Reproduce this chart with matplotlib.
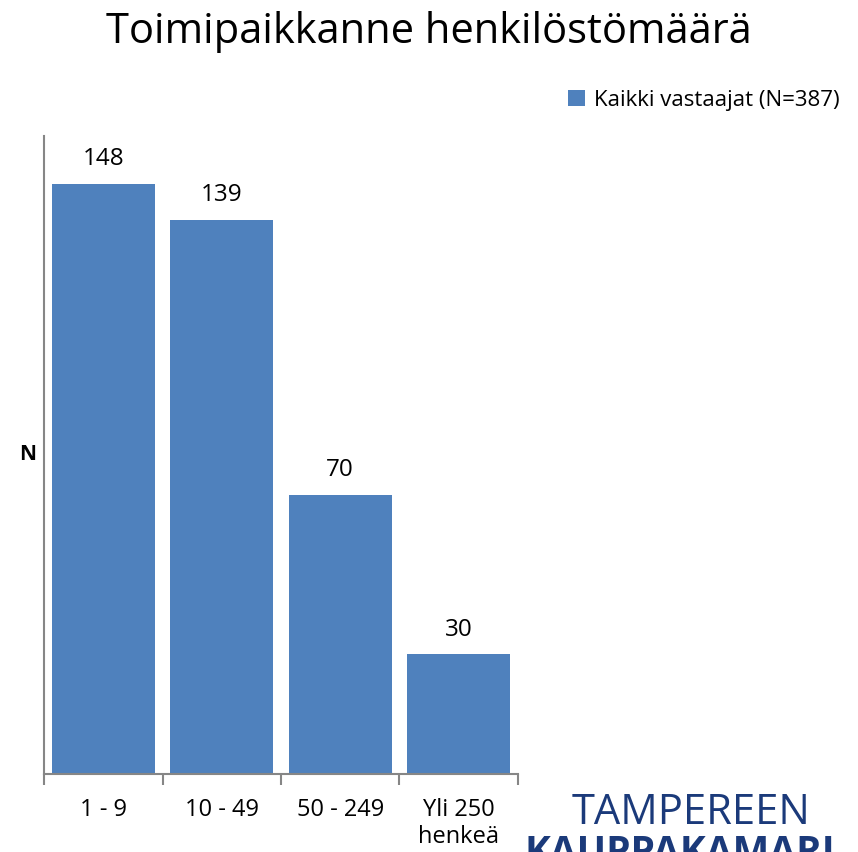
import matplotlib.pyplot as plt

categories = ['1 - 9', '10 - 49', '50 - 249', 'Yli 250\nhenkeä']
values = [148, 139, 70, 30]
series_name = 'Kaikki vastaajat (N=387)'

plt.rcParams['font.family'] = ['Open Sans', 'DejaVu Sans']

fig = plt.figure(figsize=(8.58, 8.52), dpi=100)
ax = fig.add_axes([0.0513, 0.0915, 0.5524, 0.7488])

x = range(len(categories))
bars = ax.bar(x, values, width=0.87, color='#4F81BD', label=series_name)

for b, v in zip(bars, values):
    ax.text(b.get_x() + b.get_width() / 2, v + 3.2, str(v),
            ha='center', va='bottom', fontsize=17.5)

ax.set_xlim(-0.5, len(categories) - 0.5)
ax.set_ylim(0, 160)
ax.set_yticks([])
ax.set_xticks([i - 0.5 for i in range(len(categories) + 1)])
ax.set_xticklabels([])
ax.set_xticks(list(x), minor=True)
ax.set_xticklabels(categories, minor=True, fontsize=17, linespacing=1.2)
ax.tick_params(axis='x', which='major', length=8, color='#868686', width=1.5)
ax.tick_params(axis='x', which='minor', length=0, pad=17)

for s in ['top', 'right']:
    ax.spines[s].set_visible(False)
for s in ['left', 'bottom']:
    ax.spines[s].set_color('#868686')
    ax.spines[s].set_linewidth(1.5)

fig.text(0.0327, 0.466, 'N', fontsize=15, fontweight='bold', ha='center', va='center')
fig.text(0.5, 0.962, 'Toimipaikkanne henkilöstömäärä', fontsize=30, ha='center', va='center')

fig.legend(handles=[bars], labels=[series_name], loc='center left',
           bbox_to_anchor=(0.652, 0.882), frameon=False, fontsize=16,
           handlelength=0.75, handleheight=0.75, handletextpad=0.4, borderaxespad=0)

# logo text (second line is cut by the bottom edge, as in the original)
fig.text(0.805, 0.046, 'TAMPEREEN', fontsize=30, color='#1B3A7A', ha='center', va='center')
fig.text(0.792, -0.0015, 'KAUPPAKAMARI', fontsize=28, color='#1B3A7A', ha='center',
         va='center', fontweight='bold')

fig.savefig('out.png', dpi=100)
